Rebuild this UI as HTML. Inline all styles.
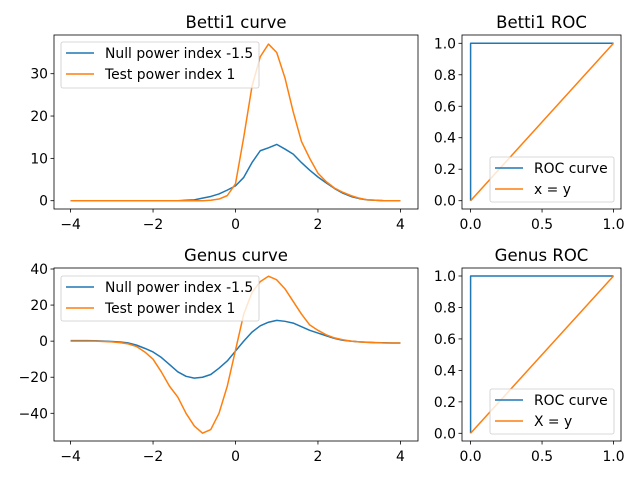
<!DOCTYPE html>
<html><head><meta charset="utf-8"><style>
body{margin:0;background:#fff}
svg{display:block;font-family:"DejaVu Sans","Liberation Sans",sans-serif}
</style></head><body>
<svg id="fig" width="640" height="480"></svg>
<script>
const xs = [-4,-3.8,-3.6,-3.4,-3.2,-3,-2.8,-2.6,-2.4,-2.2,-2,-1.8,-1.6,-1.4,-1.2,-1,-0.8,-0.6,-0.4,-0.2,0,0.2,0.4,0.6,0.8,1,1.2,1.4,1.6,1.8,2,2.2,2.4,2.6,2.8,3,3.2,3.4,3.6,3.8,4];
const bettiNull = [0,0,0,0,0,0,0,0,0,0,0,0,0,0,0.1,0.2,0.6,1,1.6,2.5,3.5,5.5,9,11.8,12.5,13.3,12.2,11,9,7.2,5.6,4.2,2.9,1.8,1.0,0.5,0.2,0.1,0,0,0];
const bettiTest = [0,0,0,0,0,0,0,0,0,0,0,0,0,0,0,0,0,0.1,0.4,1.2,4,15,27,34,37,35,29,21,14,10,6.5,4.5,3,2,1.2,0.6,0.2,0.1,0,0,0];
const genusNull = [0.3,0.3,0.3,0.2,0,-0.2,-0.5,-1,-2.2,-4,-6,-9,-13,-17,-19.5,-20.5,-20,-18.5,-15,-11,-5.5,0,5,8.5,10.5,11.5,11,10,8,6,4.5,3,1.5,0.5,0,-0.4,-0.6,-0.8,-0.9,-1,-1];
const genusTest = [0,0,0,0,-0.2,-0.4,-0.8,-1.5,-3,-6,-10,-17,-25,-31,-40,-47,-51,-49,-40,-25,-5,15,27,33,36,34,29,22,15,9,6,3.5,1.8,0.8,0,-0.4,-0.7,-0.9,-1,-1,-1];
const rocX = [0,0,1];
const rocY = [0,1,1];
const diagX = [0,1];
const diagY = [0,1];
const curveXTicks = [-4,-2,0,2,4];
const bettiYTicks = [0,10,20,30];
const genusYTicks = [-40,-20,0,20,40];
const rocTicks = [0,0.5,1];
const rocYTicks = [0,0.2,0.4,0.6,0.8,1];

const NS="http://www.w3.org/2000/svg";
const svg=document.getElementById('fig');
function mk(t,a,p){const e=document.createElementNS(NS,t);for(const k in a)e.setAttribute(k,a[k]);(p||svg).appendChild(e);return e;}
function lin(d0,d1,r0,r1){return v=>r0+(v-d0)*(r1-r0)/(d1-d0);}

function panel(name,box,sx,sy,xt,yt,xfmt,yfmt,title,series,legend){
  const g=mk('g',{});
  
  
  const t=mk('text',{x:(box[0]+box[2])/2,y:box[1]-7,'text-anchor':'middle','font-size':16.5},g);
  t.textContent=title;
  
  
  series.forEach(s=>{
    const pts=s.x.map((v,i)=>sx(v).toFixed(2)+','+sy(s.y[i]).toFixed(2)).join(' ');
    const pl=mk('polyline',{points:pts,fill:'none',stroke:s.c,'stroke-width':1.5,'stroke-linejoin':'round'},g);
    
    
  });
  const fr=mk('rect',{x:box[0],y:box[1],width:box[2]-box[0],height:box[3]-box[1],fill:'none',stroke:'#000','stroke-width':0.8},g);
  
  
  xt.forEach(v=>{
    const x=sx(v);
    mk('line',{x1:x,x2:x,y1:box[3],y2:box[3]+3.5,stroke:'#000','stroke-width':0.8},g);
    const tx=mk('text',{x:x,y:box[3]+20,'text-anchor':'middle','font-size':13.9},g);
    tx.textContent=xfmt(v);
    
    
  });
  yt.forEach(v=>{
    const y=sy(v);
    mk('line',{x1:box[0]-3.5,x2:box[0],y1:y,y2:y,stroke:'#000','stroke-width':0.8},g);
    const tx=mk('text',{x:box[0]-6,y:y+5,'text-anchor':'end','font-size':13.9},g);
    tx.textContent=yfmt(v);
    
    
  });
  const lg=mk('g',{},g);
  
  
  mk('rect',{x:legend.x,y:legend.y,width:legend.w,height:legend.h,rx:2,fill:'#fff','fill-opacity':0.8,stroke:'#ccc','stroke-width':0.8},lg);
  legend.items.forEach((it,i)=>{
    const y=legend.y+11+i*21;
    mk('line',{x1:legend.x+5,x2:legend.x+33,y1:y,y2:y,stroke:it.c,'stroke-width':1.5},lg);
    const tx=mk('text',{x:legend.x+44,y:y+5,'font-size':13.9},lg);
    tx.textContent=it.t;
    
    
  });
}
const B='#1f77b4',O='#ff7f0e';
const m=v=>v<0?'\u2212'+(-v):String(v);
const f1=v=>v.toFixed(1);
panel('betti-curve-axes',[54,35,418,209],lin(-4,4,70.6,400.4),lin(0,30,200.7,73.7),curveXTicks,bettiYTicks,m,m,'Betti1 curve',
 [{x:xs,y:bettiNull,c:B,n:'betti-null-line'},{x:xs,y:bettiTest,c:O,n:'betti-test-line'}],
 {x:61,y:42,w:198,h:46,items:[{c:B,t:'Null power index -1.5'},{c:O,t:'Test power index 1'}]});
panel('betti-roc-axes',[462,35,621,209],lin(0,1,470.6,613.5),lin(0,1,200.7,43.3),rocTicks,rocYTicks,f1,f1,'Betti1 ROC',
 [{x:rocX,y:rocY,c:B,n:'betti-roc-line'},{x:diagX,y:diagY,c:O,n:'betti-diagonal-line'}],
 {x:490,y:157,w:124,h:45,items:[{c:B,t:'ROC curve'},{c:O,t:'x = y'}]});
panel('genus-curve-axes',[54,268,418,441],lin(-4,4,70.6,400.4),lin(-40,40,413.3,269),curveXTicks,genusYTicks,m,m,'Genus curve',
 [{x:xs,y:genusNull,c:B,n:'genus-null-line'},{x:xs,y:genusTest,c:O,n:'genus-test-line'}],
 {x:61,y:276,w:198,h:45,items:[{c:B,t:'Null power index -1.5'},{c:O,t:'Test power index 1'}]});
panel('genus-roc-axes',[462,268,621,441],lin(0,1,470.6,613.5),lin(0,1,433.3,276),rocTicks,rocYTicks,f1,f1,'Genus ROC',
 [{x:rocX,y:rocY,c:B,n:'genus-roc-line'},{x:diagX,y:diagY,c:O,n:'genus-diagonal-line'}],
 {x:490,y:389,w:124,h:45,items:[{c:B,t:'ROC curve'},{c:O,t:'X = y'}]});
</script>
</body></html>
